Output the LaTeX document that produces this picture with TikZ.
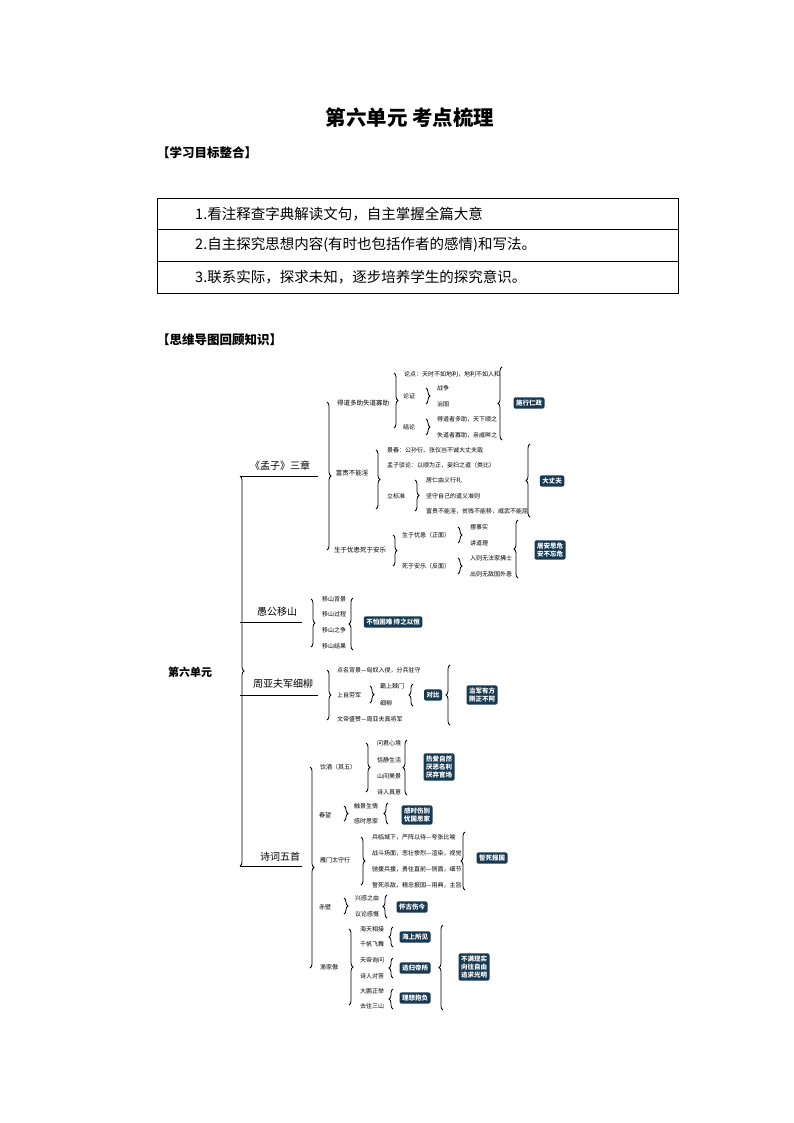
\documentclass[tikz,border=0pt]{standalone}
\usepackage{fontspec}
\setmainfont{Noto Sans CJK SC}
\usetikzlibrary{decorations.pathreplacing}
\definecolor{navy}{HTML}{173A52}
\tikzset{
 it/.style={anchor=west,inner sep=0pt,font=\fontsize{6}{7}\selectfont},
 lab/.style={inner sep=0pt,font=\fontsize{6.5}{7.5}\selectfont},
 big/.style={inner sep=0pt,font=\fontsize{10}{12}\selectfont},
 tag/.style={fill=navy,text=white,rounded corners=2pt,align=center,inner sep=2.5pt,font=\bfseries\fontsize{6.5}{8}\selectfont},
 lb/.style={decorate,decoration={brace,amplitude=4pt},line width=0.8pt},
 rb/.style={decorate,decoration={brace,amplitude=4pt},line width=0.8pt},
 ln/.style={line width=0.8pt},
 goal/.style={anchor=west,inner sep=0pt,font=\fontsize{14.5}{16}\selectfont},
 head/.style={anchor=west,inner sep=0pt,font=\bfseries\fontsize{12.5}{14}\selectfont}
}
\newcommand\LB[3]{\draw[lb] (#1,#2) -- (#1,#3);}
\newcommand\RB[3]{\draw[rb] (#1,#3) -- (#1,#2);}
\begin{document}
\begin{tikzpicture}[x=1pt,y=-1pt]
\useasboundingbox (0,0) rectangle (794,1123);
\node[inner sep=0pt,font=\bfseries\fontsize{20.5}{24}\selectfont] (title) at (410,118) {第六单元\ 考点梳理};
\node[head] (h1) at (157,153) {【学习目标整合】};
\draw[line width=0.6pt] (157,198) rectangle (678,293) (157,229.5) -- (678,229.5) (157,261) -- (678,261);
\node[goal] (g1) at (195,214) {1.看注释查字典解读文句，自主掌握全篇大意};
\node[goal] (g2) at (195,245) {2.自主探究思想内容(有时也包括作者的感情)和写法。};
\node[goal] (g3) at (195,277) {3.联系实际，探求未知，逐步培养学生的探究意识。};
\node[head] (h2) at (157,340) {【思维导图回顾知识】};
% root
\node[inner sep=0pt,font=\bfseries\fontsize{11}{13}\selectfont] (root) at (190,672) {第六单元};
\LB{240}{476}{866}
\draw[ln] (240,476) -- (318,476) (240,622) -- (302,622) (240,695) -- (318,695) (240,866) -- (302,866);
\node[big] (m) at (280,466) {《孟子》三章};
\node[big] (y) at (277,612) {愚公移山};
\node[big] (z) at (283,684) {周亚夫军细柳};
\node[big] (s) at (280,857) {诗词五首};
% Mengzi
\LB{327}{402}{550}
\node[lab] at (363,403) {得道多助失道寡助};
\LB{394}{373}{428}
\node[it] at (404,374) {论点：天时不如地利，地利不如人和};
\node[it] at (403,396) {论证}; \LB{426}{388}{404}
\node[it] at (437,388) {战争}; \node[it] at (437,404) {治国};
\node[it] at (403,427) {结论}; \LB{426}{419}{435}
\node[it] at (437,419) {得道者多助，天下顺之}; \node[it] at (437,435) {失道者寡助，亲戚畔之};
\RB{502}{367}{440}
\node[tag] at (529,403) {施行仁政};
\node[lab] at (352,473) {富贵不能淫};
\LB{376}{450}{509}
\node[it] at (387,450) {景春：公孙衍、张仪岂不诚大丈夫哉};
\node[it] at (387,465) {孟子驳论：以顺为正，妾妇之道（类比）};
\node[it] at (387,496) {立标准}; \LB{415}{480}{511}
\node[it] at (426,480) {居仁由义行礼};
\node[it] at (426,496) {坚守自己的道义准则};
\node[it] at (426,511) {富贵不能淫，贫贱不能移，威武不能屈};
\RB{530}{444}{517}
\node[tag] at (552,481) {大丈夫};
\node[lab] at (360,550) {生于忧患死于安乐};
\LB{393}{535}{566}
\node[it] at (402,535) {生于忧患（正面）}; \LB{458}{527}{543}
\node[it] at (470,527) {摆事实}; \node[it] at (470,543) {讲道理};
\node[it] at (402,566) {死于安乐（反面）}; \LB{458}{558}{574}
\node[it] at (470,558) {入则无法家拂士}; \node[it] at (470,574) {出则无敌国外患};
\RB{518}{520}{578}
\node[tag] at (550,550) {居安思危\\安不忘危};
% Yugong
\LB{311}{599}{647}
\node[it] at (322,599) {移山背景}; \node[it] at (322,614) {移山过程};
\node[it] at (322,630) {移山之争}; \node[it] at (322,646) {移山结果};
\RB{353}{598}{650}
\node[tag] at (393,622) {不怕困难\ 持之以恒};
% Zhou Yafu
\LB{327}{670}{720}
\node[it] at (337,670) {点名背景—匈奴入侵，分兵驻守};
\node[it] at (337,695) {上自劳军}; \LB{370}{686}{703}
\node[it] at (380,686) {霸上棘门}; \node[it] at (380,703) {细柳};
\RB{413}{684}{706}
\node[tag] at (433,695) {对比};
\node[it] at (337,719) {文帝盛赞—周亚夫真将军};
\RB{450}{665}{725}
\node[tag] at (482,695) {治军有方\\刚正不阿};
% poems
\LB{310}{767}{968}
\node[it] at (320,767) {饮酒（其五）}; \LB{366}{743}{792}
\node[it] at (377,743) {问君心境}; \node[it] at (377,760) {恬静生活};
\node[it] at (377,776) {山间美景}; \node[it] at (377,792) {诗人真意};
\RB{407}{740}{795}
\node[tag] at (439,767) {热爱自然\\厌恶名利\\厌弃官场};
\node[it] at (319,815) {春望}; \LB{344}{806}{821}
\node[it] at (354,806) {触景生情}; \node[it] at (354,821) {感时思家};
\RB{388}{803}{824}
\node[tag] at (417,815) {感时伤别\\忧国思家};
\node[it] at (320,860) {雁门太守行}; \LB{361}{837}{885}
\node[it] at (372,837) {兵临城下，严阵以待—夸张比喻};
\node[it] at (372,853) {战斗场面，悲壮惨烈—渲染，视觉};
\node[it] at (372,869) {驰援兵援，勇往直前—侧面，细节};
\node[it] at (372,885) {誓死杀敌，精忠报国—用典，主旨};
\RB{465}{832}{890}
\node[tag] at (492,858) {誓死报国};
\node[it] at (319,907) {赤壁}; \LB{344}{898}{914}
\node[it] at (355,898) {兴感之由}; \node[it] at (355,914) {议论感慨};
\RB{387}{895}{918}
\node[tag] at (412,907) {怀古伤今};
\node[it] at (320,967) {渔家傲}; \LB{349}{929}{1005}
\node[it] at (360,929) {海天相接}; \node[it] at (360,944) {千帆飞舞};
\node[it] at (360,960) {天帝询问}; \node[it] at (360,976) {诗人对答};
\node[it] at (360,991) {大鹏正举}; \node[it] at (360,1006) {去往三山};
\RB{393}{927}{947} \RB{393}{958}{978} \RB{393}{989}{1009}
\node[tag] at (415,937) {海上所见};
\node[tag] at (415,968) {追归帝所};
\node[tag] at (415,998) {理想抱负};
\RB{443}{925}{1010}
\node[tag] at (474,967) {不满现实\\向往自由\\追求光明};
\end{tikzpicture}
\end{document}
